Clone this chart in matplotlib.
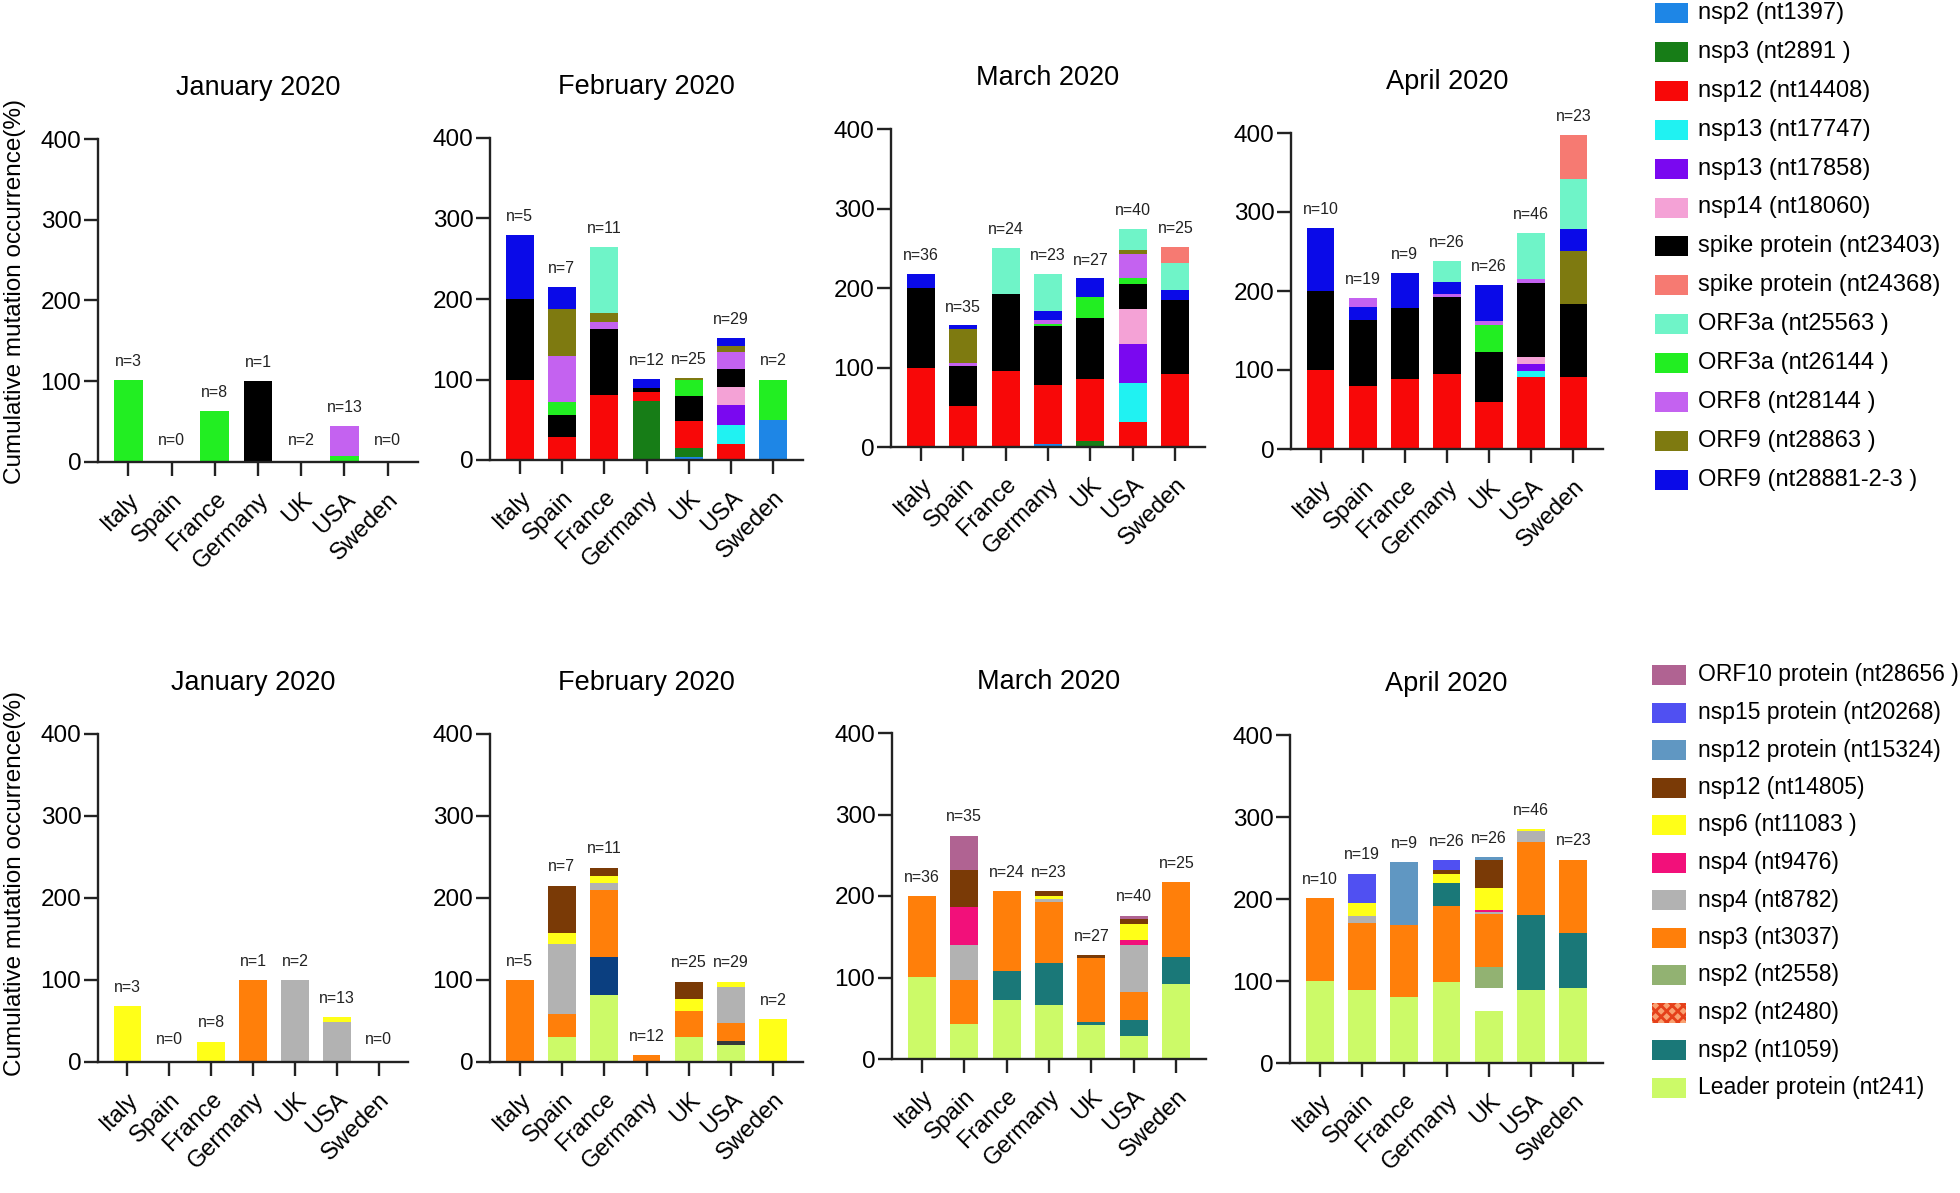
import matplotlib
matplotlib.use('Agg')
import matplotlib.pyplot as plt
from matplotlib.patches import Rectangle

plt.rcParams['font.family'] = ['Liberation Sans', 'DejaVu Sans']
plt.rcParams['hatch.linewidth'] = 2.0

countries = ['Italy', 'Spain', 'France', 'Germany', 'UK', 'USA', 'Sweden']
months = ['January 2020', 'February 2020', 'March 2020', 'April 2020']

# sample sizes per month (same for both rows)
n_jan = [3, 0, 8, 1, 2, 13, 0]
n_feb = [5, 7, 11, 12, 25, 29, 2]
n_mar = [36, 35, 24, 23, 27, 40, 25]
n_apr = [10, 19, 9, 26, 26, 46, 23]

# top row mutations (legend order)
top_keys = ['nsp2_1397', 'nsp3_2891', 'nsp12_14408', 'nsp13_17747', 'nsp13_17858',
            'nsp14_18060', 'S_23403', 'S_24368', 'ORF3a_25563', 'ORF3a_26144',
            'ORF8_28144', 'ORF9_28863', 'ORF9_28881']
top_labels = ['nsp2 (nt1397)', 'nsp3 (nt2891 )', 'nsp12 (nt14408)', 'nsp13 (nt17747)',
              'nsp13 (nt17858)', 'nsp14 (nt18060)', 'spike protein (nt23403)',
              'spike protein (nt24368)', 'ORF3a (nt25563 )', 'ORF3a (nt26144 )',
              'ORF8 (nt28144 )', 'ORF9 (nt28863 )', 'ORF9 (nt28881-2-3 )']
top_colors = ['#1e86e6', '#177d17', '#f80808', '#20f2f2', '#7a08f0',
              '#f4a2d6', '#000000', '#f67a72', '#6ff4c8', '#22ee22',
              '#c462f0', '#7e7a10', '#0a0ae8']

# bottom row mutations (legend order)
bot_keys = ['ORF10_28656', 'nsp15_20268', 'nsp12_15324', 'nsp12_14805', 'nsp6_11083',
            'nsp4_9476', 'nsp4_8782', 'nsp3_3037', 'nsp2_2558', 'nsp2_2480',
            'nsp2_1059', 'L_241']
bot_labels = ['ORF10 protein (nt28656 )', 'nsp15 protein (nt20268)', 'nsp12 protein (nt15324)',
              'nsp12 (nt14805)', 'nsp6 (nt11083 )', 'nsp4 (nt9476)', 'nsp4 (nt8782)',
              'nsp3 (nt3037)', 'nsp2 (nt2558)', 'nsp2 (nt2480)', 'nsp2 (nt1059)',
              'Leader protein (nt241)']
bot_colors = ['#b06392', '#5050f2', '#6097c2', '#7a3a06', '#ffff18',
              '#f2107a', '#b2b2b2', '#ff7f0a', '#92b272', '#ffffff',
              '#1a7878', '#ccfa68']
extra_colors = {'navy': '#0b3f80', 'dark': '#34393a'}

# stacked segments, bottom to top, one list per country
top_jan = [
    [('ORF3a_26144', 101)],
    [],
    [('ORF3a_26144', 63)],
    [('S_23403', 100)],
    [],
    [('ORF3a_26144', 8), ('ORF8_28144', 37)],
    [],
]
top_feb = [
    [('nsp12_14408', 100), ('S_23403', 100), ('ORF9_28881', 80)],
    [('nsp12_14408', 28), ('S_23403', 28), ('ORF3a_26144', 16), ('ORF8_28144', 57),
     ('ORF9_28863', 58), ('ORF9_28881', 28)],
    [('nsp12_14408', 81), ('S_23403', 82), ('ORF8_28144', 8), ('ORF9_28863', 12),
     ('ORF3a_25563', 82)],
    [('nsp3_2891', 73), ('nsp12_14408', 11), ('S_23403', 6), ('ORF9_28881', 10)],
    [('nsp2_1397', 4), ('nsp3_2891', 11), ('nsp12_14408', 33), ('S_23403', 31),
     ('ORF3a_26144', 21), ('ORF9_28863', 2)],
    [('nsp12_14408', 20), ('nsp13_17747', 24), ('nsp13_17858', 24), ('nsp14_18060', 23),
     ('S_23403', 22), ('ORF8_28144', 21), ('ORF9_28863', 7), ('ORF9_28881', 11)],
    [('nsp2_1397', 50), ('ORF3a_26144', 50)],
]
top_mar = [
    [('nsp12_14408', 100), ('S_23403', 100), ('ORF9_28881', 18)],
    [('nsp12_14408', 51), ('S_23403', 51), ('ORF8_28144', 4), ('ORF9_28863', 42),
     ('ORF9_28881', 5)],
    [('nsp12_14408', 96), ('S_23403', 97), ('ORF3a_25563', 57)],
    [('nsp2_1397', 4), ('nsp12_14408', 74), ('S_23403', 74), ('ORF3a_26144', 3),
     ('ORF8_28144', 5), ('ORF9_28881', 11), ('ORF3a_25563', 47)],
    [('nsp3_2891', 8), ('nsp12_14408', 77), ('S_23403', 77), ('ORF3a_26144', 27),
     ('ORF9_28881', 23)],
    [('nsp12_14408', 31), ('nsp13_17747', 49), ('nsp13_17858', 49), ('nsp14_18060', 44),
     ('S_23403', 32), ('ORF3a_26144', 8), ('ORF8_28144', 30), ('ORF9_28863', 5),
     ('ORF3a_25563', 26)],
    [('nsp12_14408', 92), ('S_23403', 93), ('ORF9_28881', 12), ('ORF3a_25563', 35),
     ('S_24368', 20)],
]
top_apr = [
    [('nsp12_14408', 100), ('S_23403', 100), ('ORF9_28881', 80)],
    [('nsp12_14408', 80), ('S_23403', 83), ('ORF9_28881', 17), ('ORF8_28144', 11)],
    [('nsp12_14408', 88), ('S_23403', 91), ('ORF9_28881', 44)],
    [('nsp12_14408', 95), ('S_23403', 97), ('ORF8_28144', 4), ('ORF9_28881', 15),
     ('ORF3a_25563', 27)],
    [('nsp12_14408', 60), ('S_23403', 63), ('ORF3a_26144', 34), ('ORF8_28144', 5),
     ('ORF9_28881', 46)],
    [('nsp12_14408', 91), ('nsp13_17747', 8), ('nsp13_17858', 8), ('nsp14_18060', 10),
     ('S_23403', 93), ('ORF8_28144', 5), ('ORF3a_25563', 59)],
    [('nsp12_14408', 91), ('S_23403', 93), ('ORF9_28863', 67), ('ORF9_28881', 27),
     ('ORF3a_25563', 64), ('S_24368', 56)],
]

bot_jan = [
    [('nsp6_11083', 68)],
    [],
    [('nsp6_11083', 25)],
    [('nsp3_3037', 100)],
    [('nsp4_8782', 100)],
    [('nsp4_8782', 49), ('nsp6_11083', 6)],
    [],
]
bot_feb = [
    [('nsp3_3037', 100)],
    [('L_241', 30), ('nsp3_3037', 28), ('nsp4_8782', 86), ('nsp6_11083', 13),
     ('nsp12_14805', 58)],
    [('L_241', 82), ('navy', 46), ('nsp3_3037', 82), ('nsp4_8782', 8), ('nsp6_11083', 9),
     ('nsp12_14805', 10)],
    [('nsp3_3037', 8)],
    [('L_241', 30), ('nsp3_3037', 32), ('nsp6_11083', 15), ('nsp12_14805', 21)],
    [('L_241', 21), ('dark', 5), ('nsp3_3037', 21), ('nsp4_8782', 44), ('nsp6_11083', 7)],
    [('nsp6_11083', 52)],
]
bot_mar = [
    [('L_241', 101), ('nsp3_3037', 99)],
    [('L_241', 43), ('nsp3_3037', 54), ('nsp4_8782', 43), ('nsp4_9476', 47),
     ('nsp12_14805', 45), ('ORF10_28656', 42)],
    [('L_241', 72), ('nsp2_1059', 36), ('nsp3_3037', 98)],
    [('L_241', 66), ('nsp2_1059', 52), ('nsp3_3037', 75), ('nsp4_8782', 3),
     ('nsp6_11083', 4), ('nsp12_14805', 6)],
    [('L_241', 42), ('nsp2_1059', 4), ('nsp3_3037', 78), ('nsp12_14805', 3)],
    [('L_241', 28), ('nsp2_1059', 20), ('nsp3_3037', 34), ('nsp4_8782', 58),
     ('nsp4_9476', 6), ('nsp6_11083', 20), ('nsp12_14805', 6), ('ORF10_28656', 4)],
    [('L_241', 92), ('nsp2_1059', 33), ('nsp3_3037', 92)],
]
bot_apr = [
    [('L_241', 100), ('nsp3_3037', 101)],
    [('L_241', 89), ('nsp3_3037', 82), ('nsp4_8782', 8), ('nsp6_11083', 16),
     ('nsp15_20268', 36)],
    [('L_241', 80), ('nsp3_3037', 88), ('nsp12_15324', 77)],
    [('L_241', 99), ('nsp3_3037', 93), ('nsp2_1059', 27), ('nsp6_11083', 12),
     ('nsp12_14805', 4), ('nsp15_20268', 12)],
    [('L_241', 63), ('nsp2_2480', 28), ('nsp2_2558', 26), ('nsp3_3037', 65),
     ('nsp4_8782', 2), ('nsp4_9476', 2), ('nsp6_11083', 27), ('nsp12_14805', 34),
     ('nsp12_15324', 4)],
    [('L_241', 89), ('nsp2_1059', 91), ('nsp3_3037', 90), ('nsp4_8782', 13),
     ('nsp6_11083', 2)],
    [('L_241', 92), ('nsp2_1059', 66), ('nsp3_3037', 90)],
]

W, H = 1960, 1193
fig = plt.figure(figsize=(W / 100, H / 100), dpi=100)
fig.patch.set_facecolor('white')

top_cmap = dict(zip(top_keys, top_colors))
bot_cmap = dict(zip(bot_keys, bot_colors))
bot_cmap.update(extra_colors)


def frac(l, r, t, b):
    return [l / W, 1 - b / H, (r - l) / W, (b - t) / H]


def draw_panel(box, title, stacks, cmap, n):
    ax = fig.add_axes(frac(*box))
    for i, stack in enumerate(stacks):
        bottom = 0
        for key, val in stack:
            ax.bar(i, val, bottom=bottom, width=0.66, color=cmap[key], linewidth=0)
            bottom += val
        ytxt = bottom + 23 if bottom > 0 else 27
        ax.text(i, ytxt, 'n=%d' % n[i], ha='center', va='center', fontsize=11.5,
                color='#222222')
    ax.set_xlim(-0.7, 6.7)
    ax.set_ylim(0, 400)
    ax.set_yticks([0, 100, 200, 300, 400])
    ax.set_xticks(range(len(countries)))
    ax.set_xticklabels(countries, rotation=45, ha='right', rotation_mode='anchor',
                       fontsize=17)
    for s in ['top', 'right']:
        ax.spines[s].set_visible(False)
    for s in ['left', 'bottom']:
        ax.spines[s].set_linewidth(1.7)
        ax.spines[s].set_color('#222222')
    ax.tick_params(axis='both', length=10, width=1.7, color='#222222')
    ax.tick_params(axis='y', labelsize=17.5, pad=2)
    ax.tick_params(axis='x', pad=9)
    ax.set_title(title, fontsize=19.5, pad=32)
    return ax


top_boxes = [(98, 418, 139, 462), (490, 803, 138, 460), (891, 1205, 129, 447),
             (1291, 1603, 133, 449)]
bot_boxes = [(98, 408, 734, 1062), (490, 803, 734, 1062), (892, 1206, 733, 1059),
             (1290, 1603, 735, 1063)]
top_data = [top_jan, top_feb, top_mar, top_apr]
bot_data = [bot_jan, bot_feb, bot_mar, bot_apr]
n_all = [n_jan, n_feb, n_mar, n_apr]

for k in range(4):
    draw_panel(top_boxes[k], months[k], top_data[k], top_cmap, n_all[k])
    draw_panel(bot_boxes[k], months[k], bot_data[k], bot_cmap, n_all[k])

ylab = 'Cumulative mutation occurrence(%)'
fig.text(15 / W, 1 - 292 / H, ylab, rotation=90, ha='center', va='center', fontsize=17.5)
fig.text(15 / W, 1 - 883 / H, ylab, rotation=90, ha='center', va='center', fontsize=17.5)

# legends
for k, (lab, col) in enumerate(zip(top_labels, top_colors)):
    yc = 13 + 38.9 * k
    fig.add_artist(Rectangle((1655 / W, 1 - (yc + 10) / H), 33 / W, 20 / H,
                             transform=fig.transFigure, facecolor=col, linewidth=0))
    fig.text(1698 / W, 1 - yc / H, lab, ha='left', va='center', fontsize=17)

for k, (lab, col) in enumerate(zip(bot_labels, bot_colors)):
    yc = 675 + 37.5 * k
    if bot_keys[k] == 'nsp2_2480':
        r = Rectangle((1652 / W, 1 - (yc + 10) / H), 34 / W, 20 / H,
                      transform=fig.transFigure, facecolor='#f9a070',
                      edgecolor='#e5401a', hatch='xxx', linewidth=0)
    else:
        r = Rectangle((1652 / W, 1 - (yc + 10) / H), 34 / W, 20 / H,
                      transform=fig.transFigure, facecolor=col, linewidth=0)
    fig.add_artist(r)
    fig.text(1698 / W, 1 - yc / H, lab, ha='left', va='center', fontsize=16.5)

fig.savefig('out.png', dpi=100)
